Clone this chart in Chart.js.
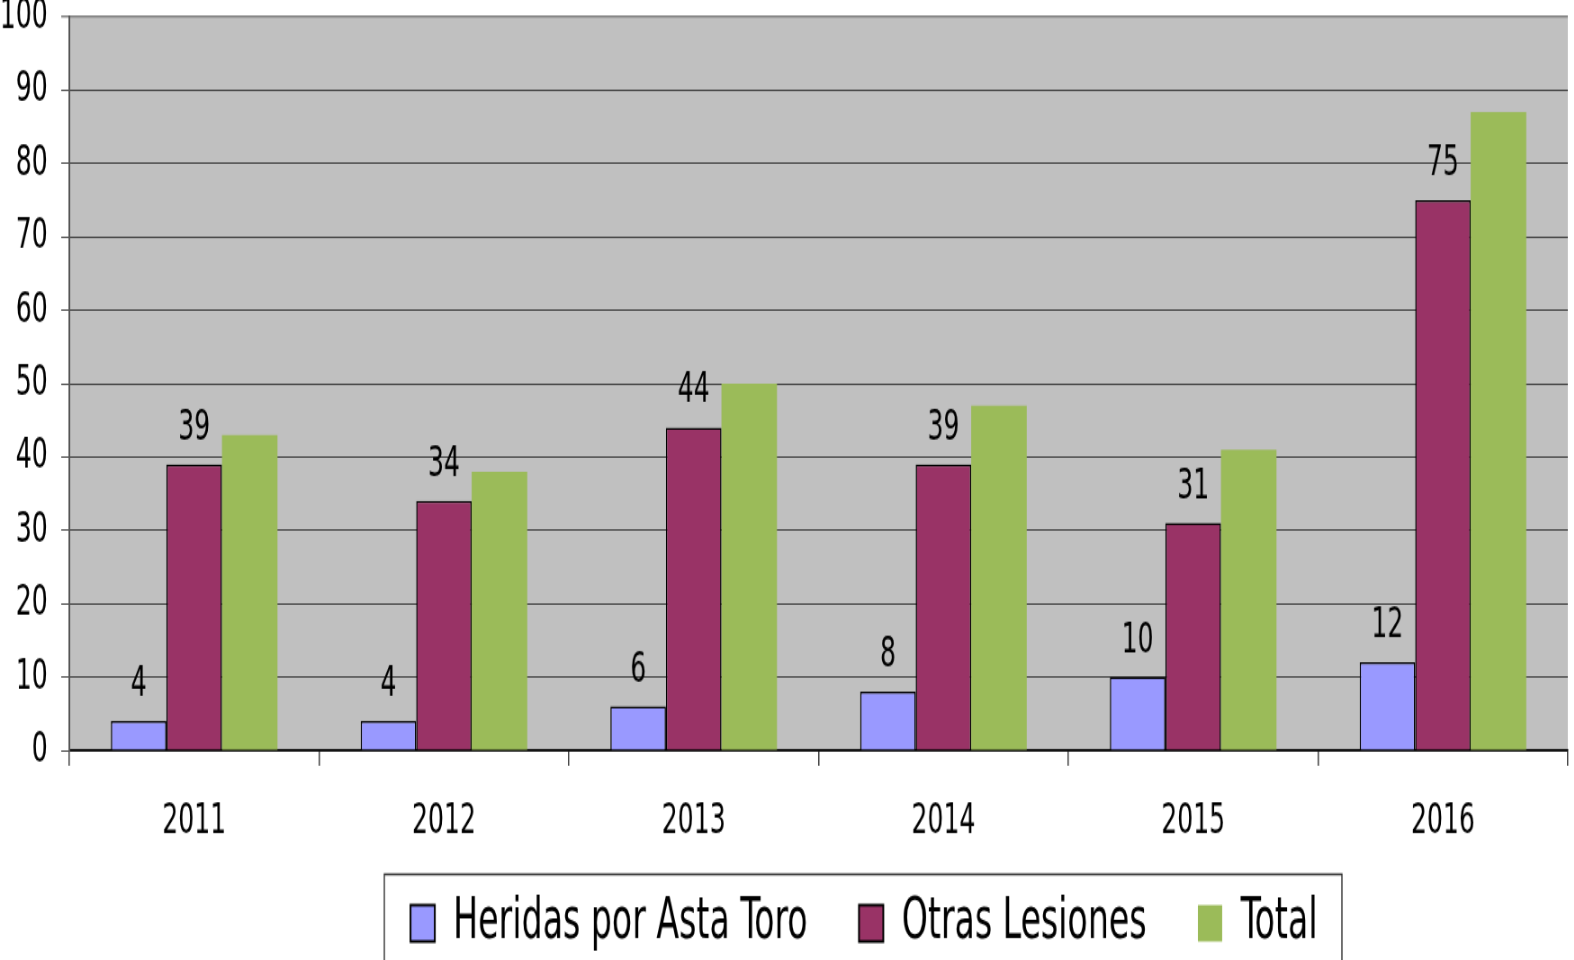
<!DOCTYPE html>
<html><head><meta charset="utf-8">
<script src="https://cdn.jsdelivr.net/npm/chart.js@4"></script>
<style>
html,body{margin:0;padding:0;background:#fff;overflow:hidden;width:1574px;height:960px}
#wrap{width:1749px;height:722px;transform:scale(0.9,1.4);transform-origin:0 0}
#c{display:block;width:1749px;height:722px}
</style></head><body>
<div id="wrap"><canvas id="c" width="1749" height="722"></canvas></div>
<script>
// ---- data ----
const categories = ['2011', '2012', '2013', '2014', '2015', '2016'];
const heridasAstaToro = [4, 4, 6, 8, 10, 12];
const otrasLesiones = [39, 34, 44, 39, 31, 75];
const totalLesiones = [43, 38, 50, 47, 41, 87];
const seriesNames = ['Heridas por Asta Toro', 'Otras Lesiones', 'Total'];
const yMin = 0, yMax = 100, yStep = 10;

const FONT = '"Liberation Sans Narrow","Arial Narrow","DejaVu Sans Condensed",sans-serif';

const plotBg = {
  id: 'plotBg',
  beforeDraw(chart) {
    const {ctx, chartArea: a} = chart;
    ctx.save();
    ctx.fillStyle = '#C0C0C0';
    ctx.fillRect(a.left, a.top, a.right - a.left, a.bottom - a.top);
    ctx.restore();
  }
};
const legendPlace = {
  id: 'legendPlace',
  afterLayout(chart) {
    const lg = chart.legend;
    const dx = 960 - (lg.left + lg.right) / 2;
    lg.left += dx; lg.right += dx;
    const dy = 582 - lg.top;
    lg.top += dy; lg.bottom += dy;
  }
};
const legendBorder = {
  id: 'legendBorder',
  afterDraw(chart) {
    const ctx = chart.ctx;
    ctx.save();
    ctx.strokeStyle = '#303030';
    ctx.lineWidth = 1.4;
    ctx.beginPath();
    ctx.moveTo(427, 730); ctx.lineTo(427, 624.5); ctx.lineTo(1491, 624.5); ctx.lineTo(1491, 730);
    ctx.stroke();
    ctx.restore();
  }
};
const valueLabels = {
  id: 'valueLabels',
  afterDatasetsDraw(chart) {
    const ctx = chart.ctx;
    ctx.save();
    ctx.font = '31px ' + FONT;
    ctx.fillStyle = '#000';
    ctx.textAlign = 'center';
    ctx.textBaseline = 'middle';
    chart.data.datasets.forEach((ds, di) => {
      if (!ds.showValues) return;
      chart.getDatasetMeta(di).data.forEach((bar, i) => {
        ctx.fillText(String(ds.data[i]), bar.x, bar.y - 26);
      });
    });
    ctx.restore();
  }
};

new Chart(document.getElementById('c'), {
  type: 'bar',
  data: {
    labels: categories,
    datasets: [
      {label: seriesNames[0], data: heridasAstaToro, backgroundColor: '#9999FF', borderColor: '#000', borderWidth: 1.5, showValues: true},
      {label: seriesNames[1], data: otrasLesiones, backgroundColor: '#993366', borderColor: '#000', borderWidth: 1.5, showValues: true},
      {label: seriesNames[2], data: totalLesiones, backgroundColor: '#9BBB59', borderWidth: 0, showValues: false}
    ]
  },
  options: {
    responsive: false,
    animation: false,
    devicePixelRatio: 1,
    events: [],
    datasets: {bar: {categoryPercentage: 0.667, barPercentage: 1.0}},
    layout: {padding: {top: 12, right: 7, left: 0, bottom: 3}},
    plugins: {
      tooltip: {enabled: false},
      legend: {
        position: 'bottom',
        labels: {
          font: {size: 41, family: FONT},
          color: '#000',
          boxWidth: 27,
          boxHeight: 26,
          padding: 57,
          generateLabels(chart) {
            return chart.data.datasets.map((ds, i) => ({
              text: ds.label,
              fillStyle: ds.backgroundColor,
              strokeStyle: i < 2 ? '#000' : ds.backgroundColor,
              lineWidth: i < 2 ? 2 : 0,
              hidden: false,
              datasetIndex: i
            }));
          }
        }
      }
    },
    scales: {
      x: {
        grid: {display: true, drawOnChartArea: false, drawTicks: true, tickLength: 11, color: '#404040', lineWidth: 1.5, offset: true},
        border: {display: true, color: '#000', width: 1.5},
        ticks: {font: {size: 31, family: FONT}, color: '#000', padding: 21},
        afterFit(s) { s.height = 75; s.paddingLeft = 0; s.paddingRight = 0; }
      },
      y: {
        min: yMin, max: yMax,
        grid: {
          color: c => (c.tick && c.tick.value === yMax) ? '#808080' : '#1a1a1a',
          lineWidth: c => (c.tick && c.tick.value === yMax) ? 1.5 : 0.8,
          tickLength: 9
        },
        border: {display: true, color: '#555', width: 2},
        ticks: {stepSize: yStep, font: {size: 31, family: FONT}, color: '#000', padding: 15},
        afterFit(s) { s.width = 77; s.paddingTop = 0; s.paddingBottom = 0; }
      }
    }
  },
  plugins: [plotBg, legendPlace, legendBorder, valueLabels]
});
</script>
</body></html>
